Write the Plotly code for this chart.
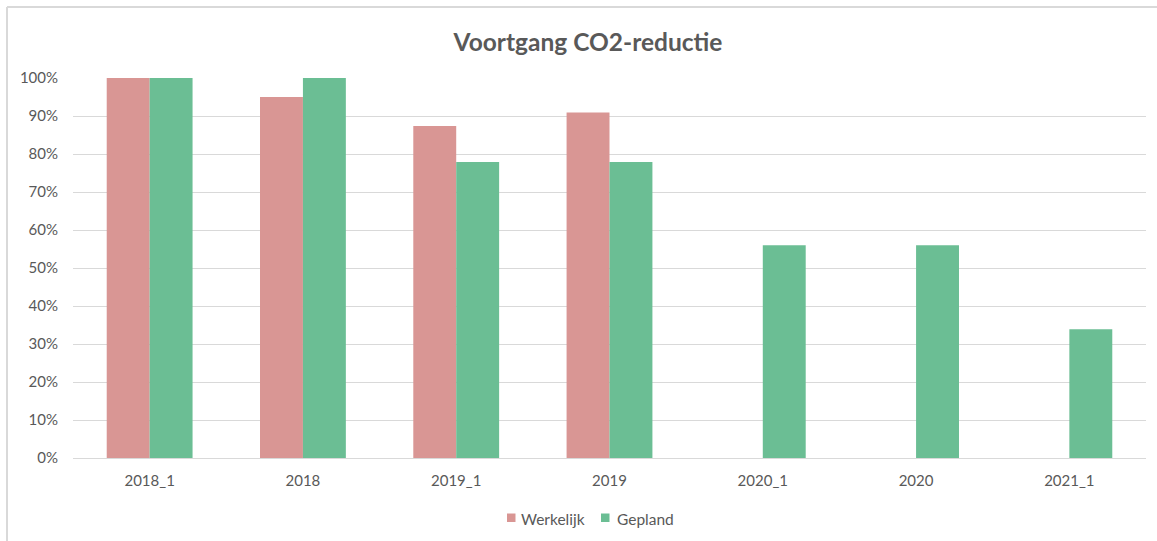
import plotly.graph_objects as go

categories = ["2018_1", "2018", "2019_1", "2019", "2020_1", "2020", "2021_1"]
werkelijk = [1.00, 0.95, 0.874, 0.909, None, None, None]
gepland = [1.00, 1.00, 0.779, 0.779, 0.56, 0.56, 0.339]
tick_vals = [0, 0.1, 0.2, 0.3, 0.4, 0.5, 0.6, 0.7, 0.8, 0.9, 1.0]
tick_text = ["0%", "10%", "20%", "30%", "40%", "50%", "60%", "70%", "80%", "90%", "100%"]
series_names = ["Werkelijk", "Gepland"]
series_colors = ["#D99694", "#6BBE94"]

W, H = 1157, 541
L, R, T, B = 73, 11, 78, 83
pw, ph = W - L - R, H - T - B


def px(x):
    return (x - L) / pw


def py(y):
    return (T + ph - y) / ph


fig = go.Figure()
for name, vals, col in zip(series_names, [werkelijk, gepland], series_colors):
    fig.add_trace(go.Bar(name=name, x=categories, y=vals,
                         marker=dict(color=col, line=dict(width=0))))

font_fam = "Lato, 'Open Sans', sans-serif"
grey = "#595959"

shapes = [
    dict(type="line", xref="paper", yref="paper", x0=px(7), x1=px(1157), y0=py(7), y1=py(7),
         line=dict(color="#D9D9D9", width=2), layer="below"),
    dict(type="line", xref="paper", yref="paper", x0=px(7), x1=px(7), y0=py(7), y1=py(541),
         line=dict(color="#D9D9D9", width=2), layer="below"),
]
annotations = []
legend_sq_x = [507, 601]
legend_text_x = [519, 615]
for name, col, sx, tx in zip(series_names, series_colors, legend_sq_x, legend_text_x):
    shapes.append(dict(type="rect", xref="paper", yref="paper",
                       x0=px(sx), x1=px(sx + 8.5), y0=py(522), y1=py(513.5),
                       fillcolor=col, line=dict(width=0)))
    annotations.append(dict(text=name, xref="paper", yref="paper", x=px(tx), y=py(518.5),
                            xanchor="left", yanchor="middle", showarrow=False,
                            font=dict(family=font_fam, size=15.5, color=grey)))

fig.update_layout(
    width=W, height=H,
    margin=dict(l=L, r=R, t=T, b=B),
    paper_bgcolor="white", plot_bgcolor="white",
    barmode="group", bargap=0.44, bargroupgap=0,
    title=dict(text="<b>Voortgang CO2-reductie</b>", x=(588) / W, xanchor="center",
               y=1 - 42 / H, yanchor="middle",
               font=dict(family=font_fam, size=24.5, color=grey)),
    font=dict(family=font_fam, size=15, color=grey),
    showlegend=False,
    xaxis=dict(showgrid=False, showline=False, ticks="", ticklabelstandoff=12,
               tickfont=dict(size=15, color=grey)),
    yaxis=dict(range=[0, 1.0], tickvals=tick_vals, ticktext=tick_text,
               showgrid=True, gridcolor="#D9D9D9", gridwidth=1,
               zeroline=True, zerolinecolor="#D9D9D9", zerolinewidth=1,
               showline=False, ticks="", ticklabelstandoff=14,
               tickfont=dict(size=15, color=grey)),
    shapes=shapes,
    annotations=annotations,
)
fig.write_html(
    "out.html",
    config={"displayModeBar": False},
    post_script=(
        "document.documentElement.style.margin='0';document.documentElement.style.padding='0';"
        "document.documentElement.style.overflow='hidden';document.documentElement.style.height='541px';"
        "document.body.style.margin='0';document.body.style.padding='0';"
        "document.body.style.overflow='hidden';document.body.style.height='541px';"
        "var d=document.querySelector('.plotly-graph-div');"
        "if(d){d.style.display='block';d.parentElement.style.height='541px';"
        "d.parentElement.style.overflow='hidden';d.parentElement.style.lineHeight='0';}"
    ),
)
